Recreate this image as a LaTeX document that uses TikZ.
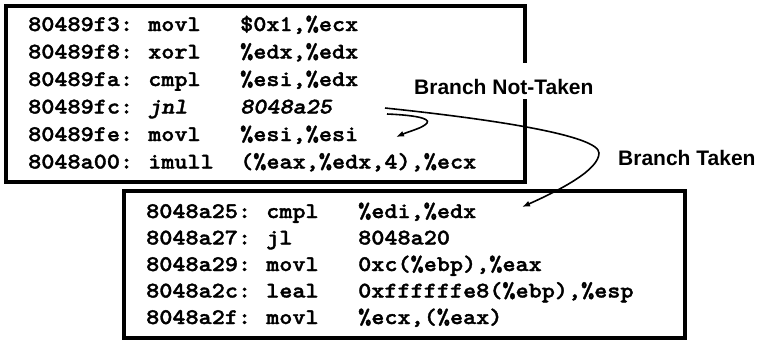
\documentclass[tikz,border=0pt]{standalone}
\usepackage{fontspec}
\usetikzlibrary{arrows.meta}
\newfontfamily\codefont{lmmonolt10-bold.otf}[ItalicFont=lmmonolt10-boldoblique.otf, FakeStretch=1.12, FakeBold=1.6]
\newfontfamily\lblfont{Liberation Sans}
\begin{document}
\begin{tikzpicture}[x=1bp, y=-1bp,
  code/.style={font=\codefont\fontsize{22.3bp}{26bp}\selectfont, anchor=base west, inner sep=0pt},
  lbl/.style={font=\lblfont\bfseries\fontsize{21bp}{25bp}\selectfont, anchor=base west,
    inner xsep=2bp, inner ysep=0pt, text height=31bp, text depth=5bp, fill=white},
  frame/.style={draw=black, line width=4bp},
  flow/.style={draw=black, line width=1.6bp, -{Latex[length=8bp,width=6bp]}}]
\useasboundingbox (0,0) rectangle (760,341);

% upper block
\draw[frame] (5.5,5.5) rectangle (524.5,182);
\foreach \i/\addr/\op/\arg in {
  1/80489f3:/movl/{\$0x1,\%ecx},
  2/80489f8:/xorl/{\%edx,\%edx},
  3/80489fa:/cmpl/{\%esi,\%edx},
  5/80489fe:/movl/{\%esi,\%esi},
  6/8048a00:/imull/{(\%eax,\%edx,4),\%ecx}}{
  \pgfmathsetmacro\yb{31+27.5*(\i-1)}
  \node[code] (a\i) at (28,\yb) {\addr};
  \node[code] (m\i) at (148,\yb) {\op};
  \node[code] (o\i) at (240,\yb) {\arg};
}
\node[code] (a4) at (28,113.5) {80489fc:};
\node[code] (m4) at (148,113.5) {\itshape jnl};
\node[code] (o4) at (240,113.5) {\itshape 8048a25};

% lower block
\draw[frame] (123.5,191) rectangle (684.5,338);
\foreach \i/\addr/\op/\arg in {
  1/8048a25:/cmpl/{\%edi,\%edx},
  2/8048a27:/jl/8048a20,
  3/8048a29:/movl/{0xc(\%ebp),\%eax},
  4/8048a2c:/leal/{0xffffffe8(\%ebp),\%esp},
  5/8048a2f:/movl/{\%ecx,(\%eax)}}{
  \pgfmathsetmacro\yb{218+26.5*(\i-1)}
  \node[code] (b\i) at (146,\yb) {\addr};
  \node[code] (n\i) at (266,\yb) {\op};
  \node[code] (p\i) at (358,\yb) {\arg};
}

% branch labels (white ground breaks the frame behind the text)
\node[lbl] (nt) at (412,94) {Branch Not-Taken};
\node[lbl] (tk) at (616,165.5) {Branch Taken};

% branch paths
\coordinate (tsrc) at (385,108);
\coordinate (tturn) at (599,153);
\coordinate (tdst) at (522,207);
\coordinate (nsrc) at (387,114);
\coordinate (nturn) at (427,123);
\coordinate (ndst) at (396,137);
\draw[flow] (tsrc) .. controls (500,120) and (599,136) .. (tturn)
  .. controls (599,170) and (560,190) .. (tdst);
\draw[flow] (nsrc) .. controls (412,115) and (431,118) .. (nturn)
  .. controls (423,128) and (410,131) .. (ndst);
\end{tikzpicture}
\end{document}
